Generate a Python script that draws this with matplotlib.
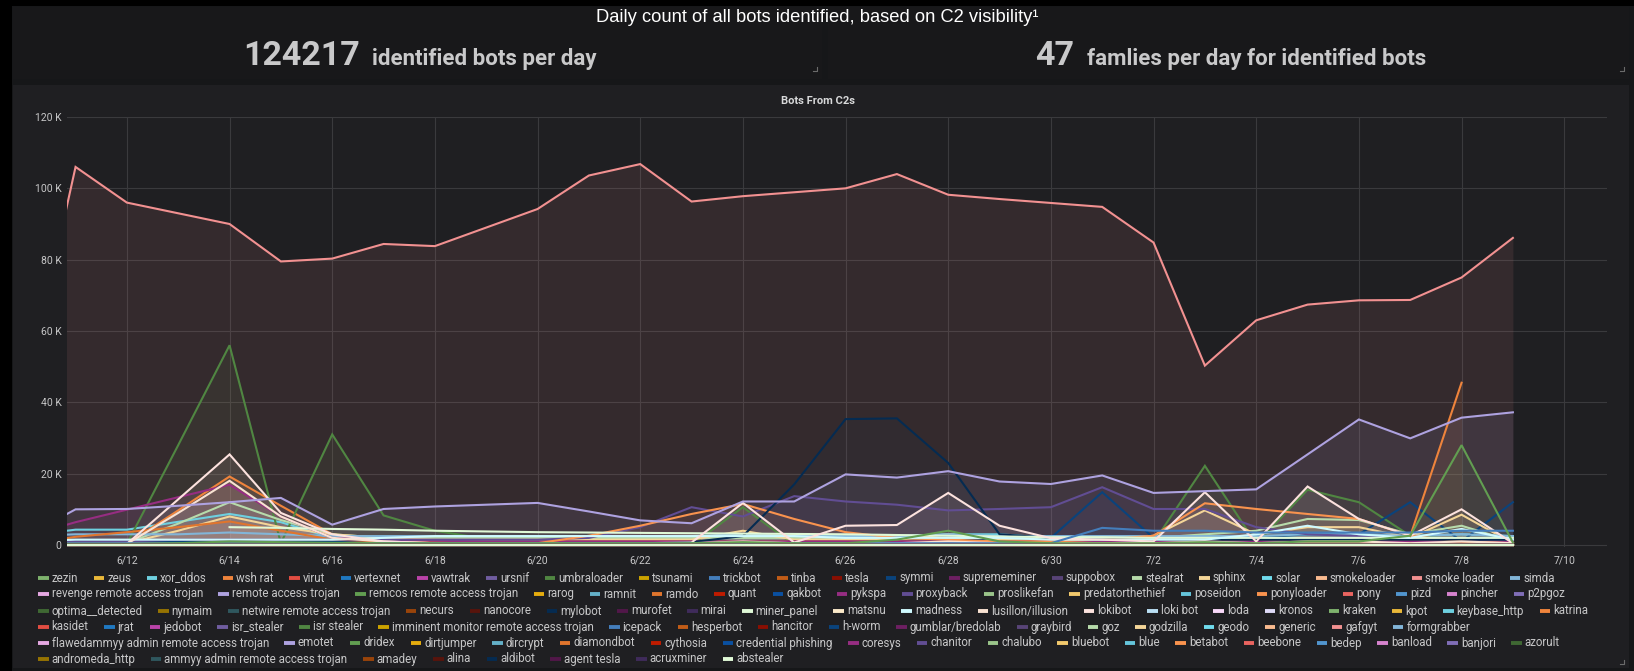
import matplotlib
matplotlib.use("Agg")
import matplotlib.pyplot as plt
import numpy as np
import pandas as pd
from matplotlib import font_manager as fm
from matplotlib.lines import Line2D
from matplotlib.patches import Rectangle
from matplotlib.ticker import FuncFormatter, FixedLocator

nan = float("nan")

# ---------------- data (thousands of bots per day, 6/10 .. 7/9) ----------------
days = pd.date_range("2019-06-10", "2019-07-09", freq="D")

gafgyt_k = [41, 106, 96, 93, 90, 79.5, 80.3, 84.4, 83.8, 89, 94.2, 103.6, 106.8, 96.3, 97.8,
            98.9, 100, 104, 98.2, 97, 95.9, 94.8, 84.8, 50.3, 63, 67.4, 68.6, 68.7, 75, 86.1]
emotet_k = [2.2, 10, 10.1, 11, 12, 13.2, 5.7, 10.1, 10.8, 11.3, 11.8, 9.4, 6.9, 6.1, 12.2,
            12.2, 19.8, 18.9, 20.7, 17.8, 17.1, 19.5, 14.6, 15.1, 15.6, 25.4, 35.2, 29.9, 35.7, 37.2]
umbraloader_k = [0, 0, 0.3, 28, 56, 0.5, 31, 8.3, 4, 1.7, 0.3, 0, 0, 0, 10.6,
                 0, 0, 0, 0.5, 0, 0, 0, 0.7, 22.2, 0.3, 15.5, 12, 2.6, 1.5, 0.5]
dridex_k = [0.3, 0.3, 0.3, 0.5, 1, 0.8, 0.6, 0.5, 0.5, 0.5, 0.5, 0.5, 0.5, 0.5, 0.8,
            0.5, 0.5, 1.5, 4, 1, 0.5, 0.5, 0.5, 0.8, 0.5, 1, 1, 2.6, 28, 0.7]
mylobot_k = [0.3, 0.3, 0.3, 0.3, 0.3, 0.3, 0.3, 0.3, 0.3, 0.3, 0.3, 0.3, 0.3, 0.8, 2.5,
             17, 35.3, 35.5, 23, 3, 2, 1.5, 1.5, 1.5, 1.5, 1.5, 1.5, 1.5, 1.5, 1.5]
symmi_k = [1, 1, 1, 1, 1, 1, 1, 1, 1, 1, 1, 1, 1, 1, 1,
           1, 1, 1, 1, 2, 2, 14.8, 2, 2, 2, 3, 3, 12, 1, 12]
proxyback_k = [1, 1, 1, 1.5, 1.5, 1.5, 1.5, 1.5, 1.5, 1.5, 1.5, 2, 5, 10.6, 8,
               13.7, 12.2, 11.3, 9.7, 10.1, 10.6, 16.2, 10.1, 10.1, 5, 3, 2.5, 2, 1.5, 1.5]
pykspa_k = [2.2, 6.4, 9.9, 13.4, 16.9, 8, 2, 1.5, 1.2, 1, 1, 1, 1, 1, 1,
            1, 1, 1, 1, 1, 1, 1, 1, 1, 1, 1, 1, 1, 1, 1]
lokibot_k = [0, 0, 0.3, 12.8, 25.4, 9, 3, 1, 0.5, 0.5, 0.5, 0.5, 0.5, 0.7, 11.8,
             0.7, 5.4, 5.6, 14.6, 5.4, 1.9, 1.5, 1, 14.8, 1, 16.4, 7.3, 2.6, 10, 0.5]
lusillon_k = [0, 0, 0.3, 9, 18, 8, 2, 1, 0.5, 0.5, 0.5, 0.5, 0.5, 0.5, 1,
              0.5, 0.5, 0.5, 1, 0.5, 0.5, 0.5, 0.5, 1, 0.5, 1, 1, 0.5, 1, 0.5]
wshrat_k = [0, 0, 0.3, 9.7, 19.2, 11, 3, 1, 0.5, 0.5, 0.5, 0.5, 0.5, 0.5, 0.5,
            0.5, 0.5, 0.5, 0.5, 0.5, 0.5, 0.5, 0.5, 0.5, 0.5, 0.5, 0.5, 0.5, 0.5, 0.5]
ponyloader_k = [0.5, 0.5, 0.5, 0.5, 0.5, 0.5, 0.5, 0.5, 0.5, 0.5, 0.5, 2.6, 5.4, 8.7, 11.5,
                7.3, 3.6, 2, 1.5, 1, 1, 1.5, 2.6, 11.7, 10.1, 8.7, 7.3, 2.6, 1, 0.5]
katrina_k = [nan, nan, nan, nan, nan, nan, nan, nan, nan, nan, nan, nan, nan, nan, nan,
             nan, nan, nan, nan, nan, nan, nan, nan, nan, nan, nan, nan, 2.5, 45.5, nan]
ramdo_k = [0, 2.3, 3.6, 5, 6.6, 4, 1.5, 1, 1, 1, 1, 1, 1, 1, 1,
           1, 1, 1, 1, 1, 1, 1, 1, 1, 1, 1, 1, 1, 1, 1]
xor_ddos_k = [2.5, 4.3, 4.3, 6.5, 8.7, 6.4, 2, 2, 2.5, 2.5, 2.5, 2.5, 2.5, 2.5, 2.5,
              2.5, 2.5, 2.5, 3, 3, 2, 2, 2, 2, 2, 3, 3, 2.5, 3, 2.5]
sphinx_k = [0, 0, 0.5, 4, 8, 5, 3, 2, 1.5, 1.5, 1.5, 1.5, 1.5, 1.5, 4,
            1.5, 1.5, 1.5, 3, 1.5, 1, 1, 2.6, 9.7, 3, 5, 5, 2, 8.5, 0.5]
stealrat_k = [0, 0, 0.5, 6, 12, 7, 3, 2, 2, 2, 2, 2, 2, 2, 2,
              2, 2, 2, 2, 2, 2, 2, 2, 3, 4, 7.3, 7, 3, 5.4, 1]
madness_k = [1, 1.5, 1.5, 1.5, 1.5, 1.5, 1.5, 2, 2.5, 2.5, 2.5, 2.5, 2.5, 2.5, 2.5,
             2.5, 2, 2, 2, 2, 1.5, 1.5, 1.5, 1.5, 3, 5.4, 3, 2, 4.5, 1.5]
miner_panel_k = [nan, nan, nan, nan, 5, 4.8, 4.5, 4.3, 4, 3.8, 3.6, 3.5, 3.4, 3.3, 3.2,
                 3.1, 3, 2.8, 2.6, 2.4, 2.2, 2.2, 2, 2, 2, 2, 2, 2, 2, 2]
simda_k = [2.5, 3, 3, 3, 3.5, 3, 2.5, 2.5, 2.5, 2.5, 2.5, 2.5, 2.5, 2.5, 3,
           2.5, 2.5, 2.5, 3, 2.5, 2.5, 2.5, 2.5, 2.5, 2.5, 3, 3, 2.5, 3, 2.5]
icepack_k = [0.5, 0.5, 0.5, 0.5, 0.5, 0.5, 0.5, 0.5, 0.5, 0.5, 0.5, 0.5, 0.5, 0.5, 0.5,
             0.5, 0.5, 0.5, 0.5, 0.5, 0.5, 4.8, 4, 4, 3.5, 3.5, 3.5, 3.5, 4, 4]
tsunami_k = [0.3, 0.5, 0.5, 0.5, 0.8, 0.5, 0.5, 0.5, 0.5, 0.5, 0.5, 0.5, 0.5, 0.5, 0.8,
             0.8, 0.8, 0.8, 0.8, 0.8, 0.8, 0.8, 0.8, 0.8, 0.8, 0.8, 0.8, 0.8, 0.8, 0.8]
virut_k = [0.3, 0.3, 0.5, 0.8, 1.2, 0.5, 0.3, 0.3, 0.3, 0.3, 0.3, 0.3, 0.3, 0.3, 0.3,
           0.3, 0.3, 0.3, 0.3, 0.3, 0.3, 0.3, 0.3, 0.3, 0.3, 0.3, 0.3, 0.3, 0.3, 0.3]

legend_rows = [
    ["zezin", "zeus", "xor_ddos", "wsh rat", "virut", "vertexnet", "vawtrak", "ursnif",
     "umbraloader", "tsunami", "trickbot", "tinba", "tesla", "symmi", "suprememiner",
     "suppobox", "stealrat", "sphinx", "solar", "smokeloader", "smoke loader", "simda"],
    ["revenge remote access trojan", "remote access trojan", "remcos remote access trojan",
     "rarog", "ramnit", "ramdo", "quant", "qakbot", "pykspa", "proxyback", "proslikefan",
     "predatorthethief", "poseidon", "ponyloader", "pony", "pizd", "pincher", "p2pgoz"],
    ["optima__detected", "nymaim", "netwire remote access trojan", "necurs", "nanocore",
     "mylobot", "murofet", "mirai", "miner_panel", "matsnu", "madness", "lusillon/illusion",
     "lokibot", "loki bot", "loda", "kronos", "kraken", "kpot", "keybase_http", "katrina"],
    ["kasidet", "jrat", "jedobot", "isr_stealer", "isr stealer",
     "imminent monitor remote access trojan", "icepack", "hesperbot", "hancitor", "h-worm",
     "gumblar/bredolab", "graybird", "goz", "godzilla", "geodo", "generic", "gafgyt",
     "formgrabber"],
    ["flawedammyy admin remote access trojan", "emotet", "dridex", "dirtjumper", "dircrypt",
     "diamondbot", "cythosia", "credential phishing", "coresys", "chanitor", "chalubo",
     "bluebot", "blue", "betabot", "beebone", "bedep", "banload", "banjori", "azorult"],
    ["andromeda_http", "ammyy admin remote access trojan", "amadey", "alina", "aldibot",
     "agent tesla", "acruxminer", "abstealer"],
]

series_values = {
    "gafgyt": gafgyt_k, "emotet": emotet_k, "umbraloader": umbraloader_k, "dridex": dridex_k,
    "mylobot": mylobot_k, "symmi": symmi_k, "proxyback": proxyback_k, "pykspa": pykspa_k,
    "lokibot": lokibot_k, "lusillon/illusion": lusillon_k, "wsh rat": wshrat_k,
    "ponyloader": ponyloader_k, "katrina": katrina_k, "ramdo": ramdo_k, "xor_ddos": xor_ddos_k,
    "sphinx": sphinx_k, "stealrat": stealrat_k, "madness": madness_k,
    "miner_panel": miner_panel_k, "simda": simda_k, "icepack": icepack_k,
    "tsunami": tsunami_k, "virut": virut_k,
}

# ---------------- style ----------------
palette = ["#7EB26D", "#EAB839", "#6ED0E0", "#EF843C", "#E24D42", "#1F78C1", "#BA43A9",
           "#705DA0", "#508642", "#CCA300", "#447EBC", "#C15C17", "#890F02", "#0A437C",
           "#6D1F62", "#584477", "#B7DBAB", "#F4D598", "#70DBED", "#F9BA8F", "#F29191",
           "#82B5D8", "#E5A8E2", "#AEA2E0", "#629E51", "#E5AC0E", "#64B0C8", "#E0752D",
           "#BF1B00", "#0A50A1", "#962D82", "#614D93", "#9AC48A", "#F2C96D", "#65C5DB",
           "#F9934E", "#EA6460", "#5195CE", "#D683CE", "#806EB7", "#3F6833", "#967302",
           "#2F575E", "#99440A", "#58140C", "#052B51", "#511749", "#3F2B5B", "#E0F9D7",
           "#FCEACA", "#CFFAFF", "#F9E2D2", "#FCE2DE", "#BADFF4", "#F9D9F9", "#DEDAF7"]

avail = {f.name for f in fm.fontManager.ttflist}
UI = "Roboto" if "Roboto" in avail else "DejaVu Sans"
ARIAL = "Liberation Sans" if "Liberation Sans" in avail else "DejaVu Sans"

W, H = 1634, 671
fig = plt.figure(figsize=(W / 100, H / 100), dpi=100, facecolor="#161719")


def fx(px):
    return px / W


def fy(py):
    return 1 - py / H


def rect(x0, y0, x1, y1, color, z=-10):
    fig.add_artist(Rectangle((fx(x0), fy(y1)), (x1 - x0) / W, (y1 - y0) / H,
                             transform=fig.transFigure, facecolor=color,
                             edgecolor="none", zorder=z))


# background pieces
rect(0, 0, W, 6, "#000000", -9)
rect(0, 0, 12, H, "#000000", -9)
rect(13, 7, 822, 79, "#18181a")
rect(828, 7, 1629, 79, "#18181a")
rect(13, 85, 1629, 668, "#1f1f22")

# corner marks
for (cx, cy) in [(817, 71), (1624, 71), (1624, 664)]:
    fig.add_artist(Line2D([fx(cx - 4), fx(cx), fx(cx)], [fy(cy), fy(cy), fy(cy - 4)],
                          transform=fig.transFigure, color="#6b6b6b", lw=0.8))

# texts on top
fig.text(fx(817), fy(22), "Daily count of all bots identified, based on C2 visibility\u00b9",
         ha="center", va="baseline", fontsize=13.2, color="white", family=ARIAL)
fig.text(fx(243), fy(65), "124217", ha="left", va="baseline", fontsize=24.5,
         weight="bold", color="#c9c9ca", family=UI)
fig.text(fx(372), fy(65), "identified bots per day", ha="left", va="baseline", fontsize=16,
         weight="bold", color="#c9c9ca", family=UI)
fig.text(fx(1035), fy(65), "47", ha="left", va="baseline", fontsize=24.5,
         weight="bold", color="#c9c9ca", family=UI)
fig.text(fx(1087), fy(65), "famlies per day for identified bots", ha="left", va="baseline",
         fontsize=16, weight="bold", color="#c9c9ca", family=UI)
fig.text(fx(818), fy(101), "Bots From C2s", ha="center", va="center", fontsize=8,
         weight="bold", color="#d8d9da", family=UI)

# ---------------- graph ----------------
y_min = -600
ax_left, ax_right, y_top_px, y0_px = 67, 1607, 117, 545
bottom_px = y0_px + (0 - y_min) * (y0_px - y_top_px) / 120000
ax = fig.add_axes([fx(ax_left), fy(bottom_px), (ax_right - ax_left) / W,
                   (bottom_px - y_top_px) / H])
ax.set_facecolor("none")
ax.set_zorder(1)

all_names = [n for row in legend_rows for n in row]
colors = {n: palette[i % len(palette)] for i, n in enumerate(all_names)}
zero_row = [0.0] * len(days)

for k, name in enumerate(all_names):
    vals = np.array(series_values.get(name, zero_row), dtype=float) * 1000
    c = colors[name]
    ax.fill_between(days, vals, 0, color=c, alpha=0.1, lw=0, zorder=2 + k * 0.01)
    ax.plot(days, vals, color=c, lw=1.5, zorder=3 + k * 0.01, solid_joinstyle="miter")

ax.set_xlim(pd.Timestamp("2019-06-10 20:00"), pd.Timestamp("2019-07-10 20:00"))
ax.set_ylim(y_min, 120000)
xt = pd.date_range("2019-06-12", "2019-07-10", freq="2D")
ax.xaxis.set_major_locator(FixedLocator(matplotlib.dates.date2num(xt)))
ax.xaxis.set_major_formatter(FuncFormatter(
    lambda v, p: "{}/{}".format(matplotlib.dates.num2date(v).month,
                                matplotlib.dates.num2date(v).day)))
ax.yaxis.set_major_locator(FixedLocator([0, 20000, 40000, 60000, 80000, 100000, 120000]))
ax.yaxis.set_major_formatter(FuncFormatter(lambda v, p: "0" if v == 0 else f"{int(v/1000)} K"))
for s in ax.spines.values():
    s.set_visible(False)
ax.tick_params(length=0, colors="#c7c7c8", labelsize=7.5, pad=4)
for lab in ax.get_xticklabels() + ax.get_yticklabels():
    lab.set_family(UI)
ax.tick_params(axis="x", pad=6)
ax.grid(True, color="#3a3a3d", lw=0.8, zorder=0)
ax.set_axisbelow(True)

# ---------------- legend (Grafana style rows) ----------------
renderer = fig.canvas.get_renderer()
leg_fs = 8.3
row_y = [578, 594, 611, 627, 643, 659]
start_x, mark_w, mark_gap = 38, 10.5, 3.0
target_end_row1 = 1555


def text_w(s):
    t = fig.text(0, 0, s, fontsize=leg_fs, family=UI)
    w = t.get_window_extent(renderer).width
    t.remove()
    return w


widths = {n: text_w(n) for n in all_names}
r0 = legend_rows[0]
natural = sum(mark_w + mark_gap + widths[n] for n in r0)
item_gap = (target_end_row1 - start_x - natural) / (len(r0) - 1)

for row, py in zip(legend_rows, row_y):
    x = start_x
    for n in row:
        fig.add_artist(Line2D([fx(x), fx(x + mark_w)], [fy(py), fy(py)],
                              transform=fig.transFigure, color=colors[n], lw=2.8,
                              solid_capstyle="butt"))
        fig.text(fx(x + mark_w + mark_gap), fy(py), n, ha="left", va="center",
                 fontsize=leg_fs, color="#c7c7c8", family=UI)
        x += mark_w + mark_gap + widths[n] + item_gap

fig.savefig("out.png", dpi=100, facecolor=fig.get_facecolor())
